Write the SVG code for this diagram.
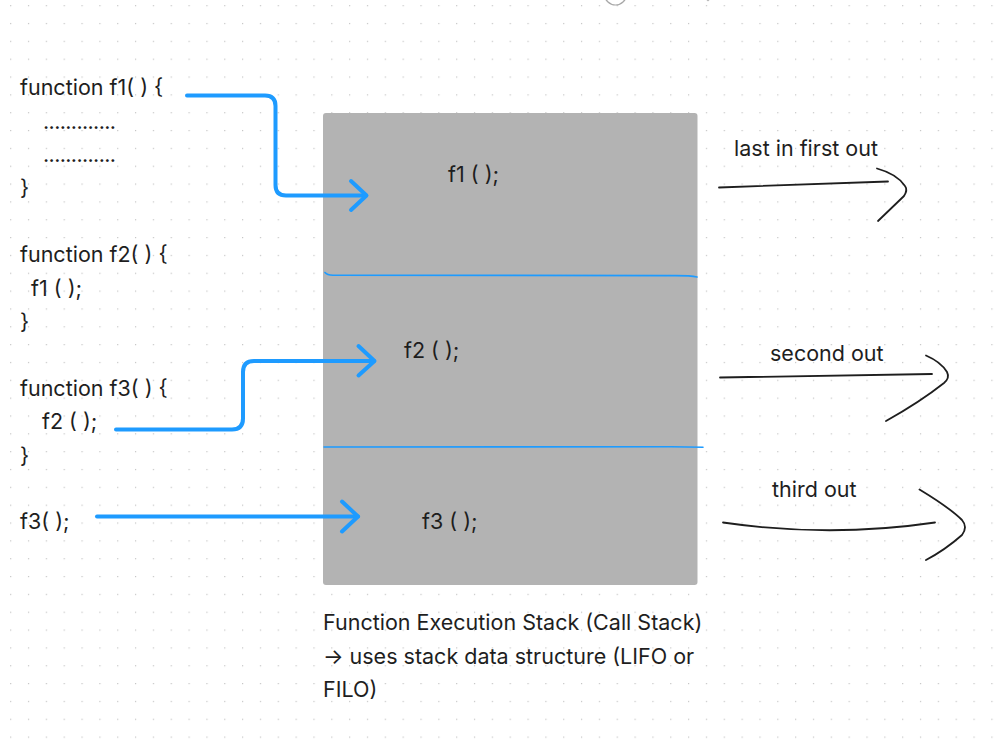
<svg xmlns="http://www.w3.org/2000/svg" width="998" height="744" viewBox="0 0 998 744">
<defs>
<pattern id="grid" patternUnits="userSpaceOnUse" x="10.1" y="5.1" width="17.84" height="17.84">
<rect x="0" y="0" width="1.2" height="1.2" fill="#c4c4c4"/>
</pattern>
<style>
text{font-family:Inter,"Liberation Sans",sans-serif;fill:#1e1e1e;font-size:21.5px}
.blue{fill:none;stroke:#1e9bff;stroke-width:4;stroke-linecap:round;stroke-linejoin:round}
.div{fill:none;stroke:#1e9bff;stroke-width:1.6;stroke-linecap:round}
.ink{fill:none;stroke:#1e1e1e;stroke-width:1.8;stroke-linecap:round;stroke-linejoin:round}
</style>
</defs>
<rect width="998" height="744" fill="#ffffff"/>
<rect width="998" height="744" fill="url(#grid)"/>
<g id="top-icon">
<circle cx="615.5" cy="-6" r="11" fill="none" stroke="#a8a8a8" stroke-width="1.2"/>
<path d="M606,0.5 Q615.5,-5 625,0.5" fill="none" stroke="#a8a8a8" stroke-width="1.2"/>
<circle cx="708" cy="0" r="1.3" fill="#bbbbbb"/>
</g>
<g id="code">
<text x="20" y="95">function f1( ) {</text>
<text x="43" y="128.5" textLength="73" lengthAdjust="spacing">.............</text>
<text x="43" y="161.5" textLength="73" lengthAdjust="spacing">.............</text>
<text x="20" y="195">}</text>
<text x="20" y="262">function f2( ) {</text>
<text x="31" y="295.5">f1 ( );</text>
<text x="20" y="329">}</text>
<text x="20" y="395.5">function f3( ) {</text>
<text x="42" y="429">f2 ( );</text>
<text x="20" y="462.5">}</text>
<text x="20" y="529">f3( );</text>
</g>
<g id="stack">
<rect x="323" y="113" width="374.5" height="472" rx="3" fill="#b3b3b3"/>
<text x="448" y="181.5">f1 ( );</text>
<text x="404" y="357.5">f2 ( );</text>
<text x="422" y="529">f3 ( );</text>
</g>
<g id="dividers">
<path class="div" d="M325,272.5 Q327,275.2 333,275.2 L672,275.6 Q690,275.4 697,277"/>
<path class="div" d="M324,447 L671,446.7 L703,447.3"/>
</g>
<g id="labels">
<text x="734" y="155.5">last in first out</text>
<text x="770" y="361">second out</text>
<text x="772" y="496.5">third out</text>
</g>
<g id="caption">
<text x="323" y="630">Function Execution Stack (Call Stack)</text>
<text x="323" y="663.5">→ uses stack data structure (LIFO or</text>
<text x="323" y="697">FILO)</text>
</g>
<g id="connectors">
<path class="blue" d="M187,95.5 H265 Q275.5,95.5 275.5,106 V185 Q275.5,195.5 286,195.5 H366"/>
<path class="blue" d="M351,181 L366.5,195.5 L351,210"/>
<path class="blue" d="M116,429.5 H232 Q243,429.5 243,418.5 V372 Q243,361 254,361 H374"/>
<path class="blue" d="M358.5,346 L374.5,361 L358.5,375.5"/>
<path class="blue" d="M97,516.5 H358"/>
<path class="blue" d="M342,501.5 L358,516.5 L342,531.5"/>
<path class="ink" d="M719,187.5 Q800,185 888,181.5"/>
<path class="ink" d="M877,168.5 Q897,174 905,186 Q908,190 904,196 L878,221"/>
<path class="ink" d="M720,377.5 L932,374"/>
<path class="ink" d="M926,355.5 Q941,362 947,372 Q950,378 944,383 Q920,402 886,421"/>
<path class="ink" d="M723,522.5 Q830,538 935,522.5"/>
<path class="ink" d="M919.5,489.5 Q950,508 962,520 Q968,527 962,535 Q945,550 926,560"/>
</g>
</svg>
